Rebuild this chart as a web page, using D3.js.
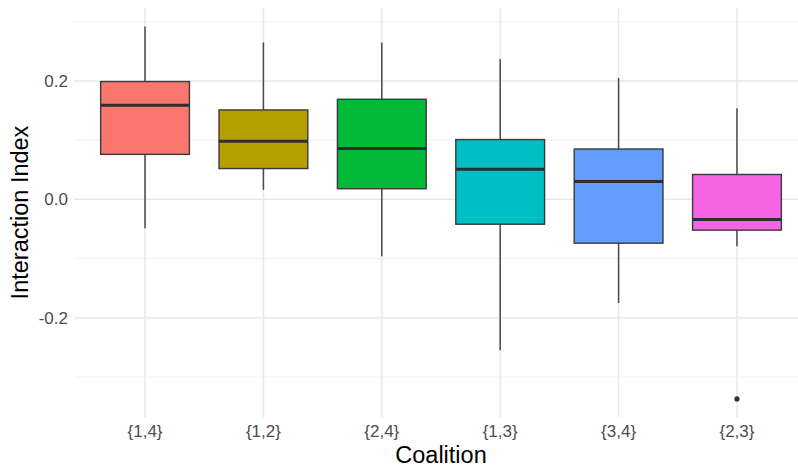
<!DOCTYPE html>
<html>
<head>
<meta charset="utf-8">
<script src="https://cdn.jsdelivr.net/npm/d3@7"></script>
<style>
  body { margin: 0; background: #fff; }
  svg { display: block; font-family: "Liberation Sans", Arial, sans-serif; }
</style>
</head>
<body>
<div id="chart"></div>
<script>
(function () {

    "use strict";

    // Coalitions in the order shown on the x axis
    var coalitions = ["{1,4}", "{1,2}", "{2,4}", "{1,3}", "{3,4}", "{2,3}"];

    // Five-number summaries
    var whiskerLow = [-0.049, 0.016, -0.096, -0.255, -0.175, -0.079];
    var q1 = [0.076, 0.052, 0.018, -0.042, -0.074, -0.052];
    var medians = [0.159, 0.098, 0.086, 0.051, 0.030, -0.034];
    var q3 = [0.199, 0.151, 0.169, 0.101, 0.085, 0.042];
    var whiskerHigh = [0.292, 0.265, 0.265, 0.237, 0.205, 0.154];

    // Outliers: [coalition index, value]
    var outliers = [[5, -0.337]];

    var fills = ["#F8766D", "#B79F00", "#00BA38", "#00BFC4", "#619CFF", "#F564E3"];

    var yTicks = [-0.2, 0.0, 0.2];
    var yMinorTicks = [-0.3, -0.1, 0.1, 0.3];

    var width = 798,
        height = 468,
        panel = {left: 74, right: 808, top: 8, bottom: 417};

    var svg = d3.select("#chart").append("svg")
        .attr("width", width)
        .attr("height", height);

    var x = d3.scaleBand()
        .domain(coalitions)
        .range([panel.left, panel.right])
        .paddingOuter(0.1)
        .paddingInner(0);

    var step = x.bandwidth();
    function cx(c) { return x(c) + step / 2; }

    var y = d3.scaleLinear()
        .domain([-0.3676, 0.3232])
        .range([panel.bottom, panel.top]);

    // grid
    var grid = svg.append("g");

    grid.selectAll(".minor")
        .data(yMinorTicks)
        .enter().append("line")
        .attr("x1", panel.left).attr("x2", panel.right)
        .attr("y1", function (d) { return y(d); })
        .attr("y2", function (d) { return y(d); })
        .attr("stroke", "#f2f2f2").attr("stroke-width", 1.2);

    grid.selectAll(".major")
        .data(yTicks)
        .enter().append("line")
        .attr("x1", panel.left).attr("x2", panel.right)
        .attr("y1", function (d) { return y(d); })
        .attr("y2", function (d) { return y(d); })
        .attr("stroke", "#e8e8e8").attr("stroke-width", 1.5);

    grid.selectAll(".vgrid")
        .data(coalitions)
        .enter().append("line")
        .attr("x1", cx).attr("x2", cx)
        .attr("y1", panel.top).attr("y2", panel.bottom)
        .attr("stroke", "#e8e8e8").attr("stroke-width", 1.5);

    // boxes
    var boxW = step * 0.75;
    var boxes = svg.append("g").selectAll("g")
        .data(coalitions)
        .enter().append("g");

    boxes.append("line")
        .attr("x1", cx).attr("x2", cx)
        .attr("y1", function (d, i) { return y(q3[i]); })
        .attr("y2", function (d, i) { return y(whiskerHigh[i]); })
        .attr("stroke", "#4a4a4a").attr("stroke-width", 1.5);

    boxes.append("line")
        .attr("x1", cx).attr("x2", cx)
        .attr("y1", function (d, i) { return y(q1[i]); })
        .attr("y2", function (d, i) { return y(whiskerLow[i]); })
        .attr("stroke", "#4a4a4a").attr("stroke-width", 1.5);

    boxes.append("rect")
        .attr("x", function (d) { return cx(d) - boxW / 2; })
        .attr("width", boxW)
        .attr("y", function (d, i) { return y(q3[i]); })
        .attr("height", function (d, i) { return y(q1[i]) - y(q3[i]); })
        .attr("fill", function (d, i) { return fills[i]; })
        .attr("stroke", "#3a3a3a").attr("stroke-width", 1.4);

    boxes.append("line")
        .attr("x1", function (d) { return cx(d) - boxW / 2; })
        .attr("x2", function (d) { return cx(d) + boxW / 2; })
        .attr("y1", function (d, i) { return y(medians[i]); })
        .attr("y2", function (d, i) { return y(medians[i]); })
        .attr("stroke", "#2e2e2e").attr("stroke-width", 3);

    svg.append("g").selectAll("circle")
        .data(outliers)
        .enter().append("circle")
        .attr("cx", function (d) { return cx(coalitions[d[0]]); })
        .attr("cy", function (d) { return y(d[1]); })
        .attr("r", 2.6)
        .attr("fill", "#333");

    // axes (text only, like theme_minimal)
    var yAxis = svg.append("g")
        .attr("transform", "translate(" + (panel.left - 6) + ",0)")
        .call(d3.axisLeft(y).tickValues(yTicks).tickSize(0).tickPadding(0)
            .tickFormat(d3.format(".1f")));
    yAxis.select(".domain").remove();
    yAxis.selectAll("text")
        .attr("font-size", 17)
        .attr("font-family", "Liberation Sans, Arial, sans-serif")
        .attr("fill", "#4d4d4d")
        .text(function (d) { return d3.format(".1f")(d).replace("−", "-"); });

    var xAxis = svg.append("g")
        .attr("transform", "translate(0," + (panel.bottom + 4) + ")")
        .call(d3.axisBottom(x).tickSize(0).tickPadding(4));
    xAxis.select(".domain").remove();
    xAxis.selectAll("text")
        .attr("font-size", 17)
        .attr("font-family", "Liberation Sans, Arial, sans-serif")
        .attr("fill", "#4d4d4d");

    svg.append("text")
        .attr("x", (panel.left + panel.right) / 2)
        .attr("y", 463)
        .attr("text-anchor", "middle")
        .attr("font-size", 23.5)
        .attr("fill", "#000")
        .text("Coalition");

    svg.append("text")
        .attr("transform", "translate(27.5," + ((panel.top + panel.bottom) / 2) + ") rotate(-90)")
        .attr("text-anchor", "middle")
        .attr("font-size", 23.5)
        .attr("fill", "#000")
        .text("Interaction Index");

}());
</script>
</body>
</html>
